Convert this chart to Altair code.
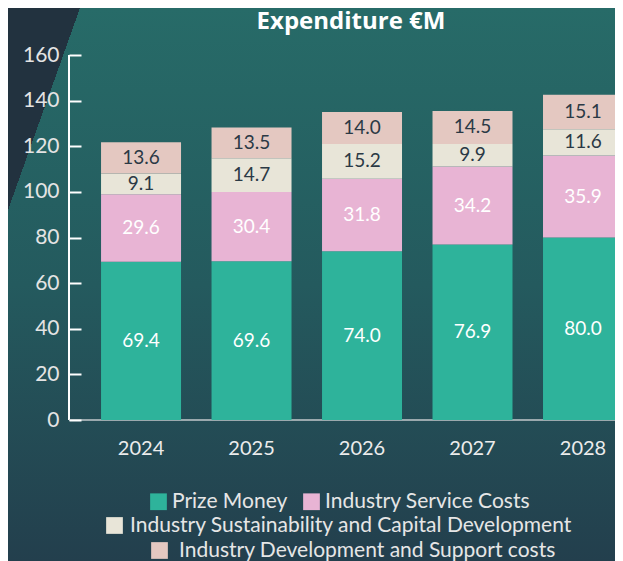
import altair as alt
import pandas as pd

# ---- data ----
years = ["2024", "2025", "2026", "2027", "2028"]
categories = [
    "Prize Money",
    "Industry Service Costs",
    "Industry Sustainability and Capital Development",
    "Industry Development and Support costs",
]
prize_money = [69.4, 69.6, 74.0, 76.9, 80.0]
service_costs = [29.6, 30.4, 31.8, 34.2, 35.9]
sustainability = [9.1, 14.7, 15.2, 9.9, 11.6]
development = [13.6, 13.5, 14.0, 14.5, 15.1]
y_ticks = [0, 20, 40, 60, 80, 100, 120, 140, 160]

colors = ["#2EB39B", "#E8B4D4", "#E8E5D8", "#E4C8C1"]

series = [prize_money, service_costs, sustainability, development]
rows = []
for i, yr in enumerate(years):
    for k, cat in enumerate(categories):
        v = series[k][i]
        rows.append({"year": yr, "category": cat, "value": v, "order": k, "label": f"{v:.1f}"})
df = pd.DataFrame(rows)

# ---- layout ----
W, H = 546, 365
PL, PT, PB = 61, 47, 141
TOT_H = PT + H + PB
FONT = "Lato"

x_scale = alt.Scale(domain=years, range=[0, 554], paddingInner=0.276, paddingOuter=0.145, align=1)
y_scale = alt.Scale(domain=[0, 160], nice=False, zero=True)

x_axis = alt.Axis(title=None, domain=False, ticks=False, labelAngle=0, labelPadding=18,
                  labelFont=FONT, labelFontSize=20, labelColor="#ECECEC", zindex=1)
y_axis = alt.Axis(title=None, values=y_ticks, domain=False, ticks=True, tickSize=12, tickWidth=2,
                  tickColor="#FFFFFF", offset=-12, labelPadding=10, labelFont=FONT,
                  labelFontSize=21, labelColor="#E4E4E4", grid=False, zindex=1)

X = alt.X("year:N", scale=x_scale, axis=x_axis)

one = alt.Data(values=[{}])

# background gradient
bg = alt.Chart(one).mark_rect(
    color=alt.LinearGradient(
        gradient="linear", x1=0, x2=0, y1=0, y2=1,
        stops=[alt.GradientStop(color="#276B68", offset=0),
               alt.GradientStop(color="#245A5E", offset=0.5),
               alt.GradientStop(color="#233F4D", offset=1)],
    )
).encode(x=alt.value(-PL), x2=alt.value(W), y=alt.value(-PT), y2=alt.value(TOT_H - PT))

# dark corner triangle (diagonal hard stop)
tri = alt.Chart(one).mark_rect(
    color=alt.LinearGradient(
        gradient="linear", x1=0, x2=1, y1=0, y2=1,
        stops=[alt.GradientStop(color="#22323F", offset=0),
               alt.GradientStop(color="#22323F", offset=0.5),
               alt.GradientStop(color="rgba(34,50,63,0)", offset=0.5),
               alt.GradientStop(color="rgba(34,50,63,0)", offset=1)],
    )
).encode(x=alt.value(-PL), x2=alt.value(11), y=alt.value(-PT), y2=alt.value(155))

# axis lines
y_line = alt.Chart(one).mark_rule(color="#FFFFFF", strokeWidth=2).encode(
    x=alt.value(0),
    y=alt.Y(datum=0, scale=y_scale, axis=y_axis),
    y2=alt.Y2(datum=160),
)
x_line = alt.Chart(one).mark_rule(color="#C3C9CD", strokeWidth=1.5).encode(
    x=alt.value(0), x2=alt.value(W),
    y=alt.Y(datum=0, scale=y_scale, axis=y_axis),
)

base = alt.Chart(df).transform_stack(
    stack="value", groupby=["year"], as_=["y0", "y1"],
    sort=[alt.SortField(field="order", order="ascending")],
)


def legend(x, y, offset):
    return alt.Legend(
        orient="none", legendX=x, legendY=y, direction="horizontal", title=None,
        symbolType="square", symbolSize=280, symbolStrokeWidth=0, symbolOpacity=1,
        labelFont=FONT, labelFontSize=21, labelColor="#E6E6E6", labelOffset=offset,
        columnPadding=13, padding=0, labelLimit=700,
    )


def bar_layer(idx, leg):
    cats = [categories[i] for i in idx]
    cols = [colors[i] for i in idx]
    return base.transform_filter(
        alt.FieldOneOfPredicate(field="category", oneOf=cats)
    ).mark_bar().encode(
        x=X,
        y=alt.Y("y0:Q", scale=y_scale, axis=y_axis),
        y2="y1:Q",
        color=alt.Color("category:N", scale=alt.Scale(domain=cats, range=cols), legend=leg),
    )


bars_a = bar_layer([0, 1], legend(79, 436, 3))
bars_b = bar_layer([2], legend(35, 460, 5))
bars_c = bar_layer([3], legend(80, 485, 9))

labels = base.transform_calculate(mid="(datum.y0 + datum.y1) / 2").mark_text(
    font=FONT, fontSize=19
).encode(
    x=X,
    y=alt.Y("mid:Q", scale=y_scale, axis=y_axis),
    text="label:N",
    color=alt.condition(
        alt.FieldOneOfPredicate(field="category", oneOf=categories[:2]),
        alt.value("#FFFFFF"), alt.value("#2B3945"),
    ),
)

chart = alt.layer(bg, tri, y_line, x_line, bars_a, bars_b, bars_c, labels).resolve_scale(
    color="independent"
).properties(
    width=W, height=H,
    autosize=alt.AutoSizeParams(type="none"),
    padding={"left": PL, "top": PT, "right": 0, "bottom": PB},
    title=alt.Title("Expenditure €M", font="Open Sans", fontSize=24, fontWeight="bold",
                    color="#FFFFFF", anchor="middle", frame="group", baseline="bottom",
                    offset=-50, dx=9),
).configure_view(stroke=None).configure(background="#24505A")

chart.save("out.html", embed_options={"renderer": "svg", "actions": False})
